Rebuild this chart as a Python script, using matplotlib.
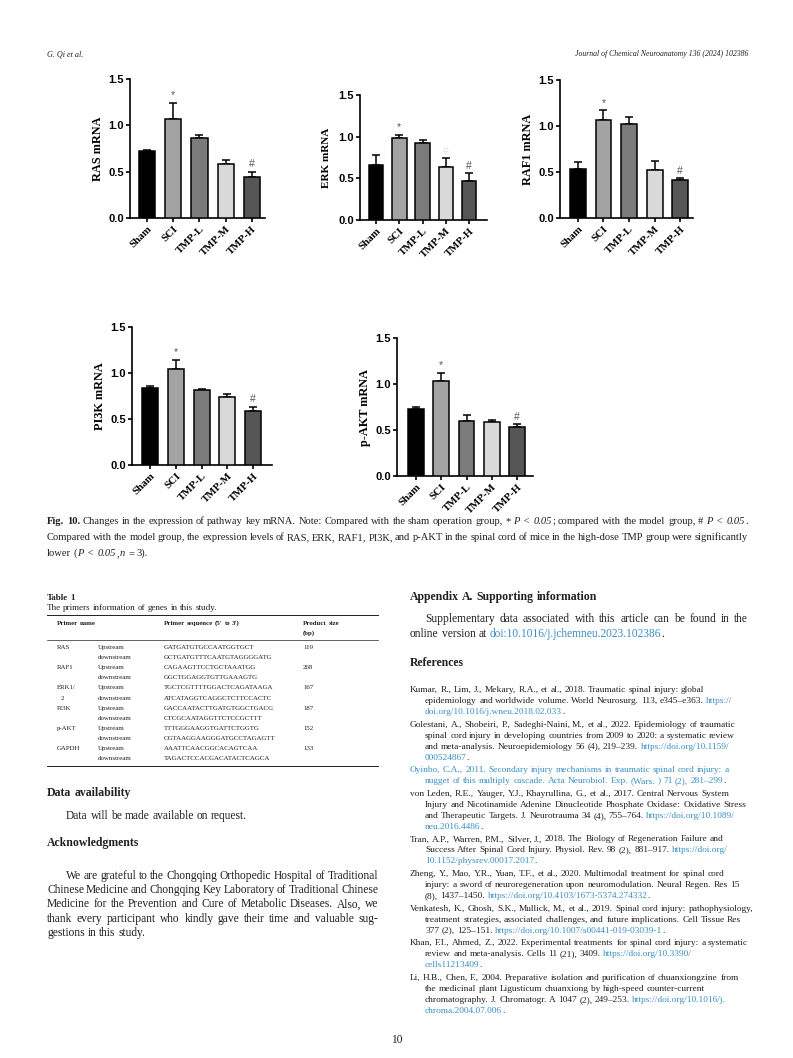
import re
import matplotlib
matplotlib.use('Agg')
import matplotlib.pyplot as plt
from matplotlib.lines import Line2D

W, H = 793, 1058

# --- chart data ---
groups = ['Sham', 'SCI', 'TMP-L', 'TMP-M', 'TMP-H']
bar_colors = ['#000000', '#a3a3a3', '#7b7b7b', '#d9d9d9', '#565656']

ras_mean = [0.72, 1.07, 0.86, 0.58, 0.44]
ras_err = [0.01, 0.17, 0.04, 0.045, 0.06]
erk_mean = [0.66, 0.98, 0.92, 0.635, 0.47]
erk_err = [0.12, 0.045, 0.04, 0.105, 0.09]
raf1_mean = [0.53, 1.07, 1.02, 0.52, 0.41]
raf1_err = [0.08, 0.10, 0.08, 0.095, 0.02]
pi3k_mean = [0.835, 1.04, 0.815, 0.735, 0.59]
pi3k_err = [0.022, 0.105, 0.012, 0.035, 0.04]
pakt_mean = [0.73, 1.03, 0.60, 0.585, 0.53]
pakt_err = [0.02, 0.095, 0.065, 0.02, 0.03]

# --- table data ---
genes = ['RAS', 'RAF1', 'ERK1/', 'PI3K', 'p-AKT', 'GAPDH']
up_seq = ['GATGATGTGCCAATGGTGCT', 'CAGAAGTTCCTGCTAAATGG', 'TGCTCGTTTTGGACTCAGATAAGA',
          'GACCAATACTTGATGTGGCTGACG', 'TTTGGGAAGGTGATTCTGGTG', 'AAATTCAACGGCACAGTCAA']
down_seq = ['GCTGATGTTTCAATGTAGGGGATG', 'GGCTGGAGGTGTTGAAAGTG', 'ATCATAGGTCAGGCTCTTCCACTC',
            'CTCGCAATAGGTTCTCCGCTTT', 'CGTAAGGAAGGGATGCCTAGAGTT', 'TAGACTCCACGACATACTCAGCA']
sizes = ['119', '268', '167', '187', '152', '133']

TEXT = '#231f20'
LINK = '#3a8fc4'
BODY = 'Liberation Serif'
CAP = 'Liberation Serif'

fig = plt.figure(figsize=(W / 100, H / 100), dpi=100)
fig.patch.set_facecolor('white')
renderer = fig.canvas.get_renderer()


def fx(x):
    return x / W


def fy(y):
    return 1 - y / H


# === bar charts ===
def add_chart(box, xlim, ylabel, means, errs, marks, lsize=8.8, label_x=None):
    x0, x1, ytop, ybot = box
    ax = fig.add_axes([fx(x0), fy(ybot), (x1 - x0) / W, (ybot - ytop) / H])
    xs = list(range(len(groups)))
    ax.bar(xs, means, width=0.62, color=bar_colors, edgecolor='black', linewidth=1.1, zorder=3)
    ax.errorbar(xs, means, yerr=[[0] * len(errs), errs], fmt='none', ecolor='black',
                elinewidth=1.1, capsize=2.8, capthick=1.1, zorder=2)
    ax.set_ylim(0, 1.5)
    ax.set_xlim(*xlim)
    ax.set_yticks([0, 0.5, 1.0, 1.5])
    ax.set_yticklabels(['0.0', '0.5', '1.0', '1.5'], fontfamily='Liberation Sans',
                       fontweight='bold', fontsize=8)
    ax.set_xticks(xs)
    ax.set_xticklabels(groups, rotation=45, ha='right', rotation_mode='anchor',
                       fontfamily='Liberation Serif', fontweight='bold', fontsize=7.8)
    for s in ['top', 'right']:
        ax.spines[s].set_visible(False)
    for s in ['left', 'bottom']:
        ax.spines[s].set_linewidth(1.2)
    ax.tick_params(direction='out', length=3, width=1.2, pad=1.5)
    ax.set_ylabel(ylabel, fontfamily='Liberation Serif', fontweight='bold', fontsize=lsize, labelpad=3)
    if label_x is not None:
        ax.yaxis.set_label_coords((label_x - x0) / (x1 - x0), 0.5)
    for i, sym, col in marks:
        ax.text(i, means[i] + errs[i] + 0.03, sym, ha='center', va='bottom',
                fontsize=7.5, color=col, fontfamily='Liberation Sans')
    ax.patch.set_alpha(0)
    return ax


std_marks = [(1, '*', '#555555'), (4, '#', '#555555')]
add_chart((130, 265, 79, 218), (-0.65, 4.5), 'RAS mRNA', ras_mean, ras_err, std_marks)
add_chart((360, 487, 95, 220), (-0.69, 4.77), 'ERK mRNA', erk_mean, erk_err,
          std_marks + [(3, '#', '#e2e2e2')], lsize=8.0, label_x=331)
add_chart((560, 693, 80, 218), (-0.7, 4.5), 'RAF1 mRNA', raf1_mean, raf1_err, std_marks)
add_chart((132, 272, 327, 465), (-0.7, 4.73), 'PI3K mRNA', pi3k_mean, pi3k_err, std_marks)
add_chart((397, 533, 338, 476), (-0.75, 4.63), 'p-AKT mRNA', pakt_mean, pakt_err, std_marks)


# === text helpers ===
KIND = {'n': {}, 'b': {'fontweight': 'bold'}, 'i': {'fontstyle': 'italic'},
        'l': {'color': LINK}}


def KIND_W(kind):
    return {k: v for k, v in KIND[kind].items() if k != 'color'}


def width_of(s, size, family, **kw):
    t = fig.text(0, 0, s, fontsize=size, fontfamily=family, **kw)
    w = t.get_window_extent(renderer).width
    t.remove()
    return w


def fit(s, target, family=BODY, **kw):
    return 10 * target / width_of(s, 10, family, **kw)


def draw_line(segs, x0, y, size, family=BODY, x1=None):
    if isinstance(segs, str):
        segs = [(segs, 'n')]
    toks = []
    pending = False
    for text, kind in segs:
        for m in re.finditer(r'\S+| +', text):
            t = m.group()
            if t.strip() == '':
                pending = True
                continue
            toks.append((t, kind, pending and len(toks) > 0))
            pending = False
    # word advance = width(word + '|') - width('|'), keeps side bearings
    bar_w = width_of('|', size, family)
    objs, widths = [], []
    for t, kind, sp in toks:
        p = dict(color=TEXT)
        p.update(KIND[kind])
        o = fig.text(0, fy(y), t, fontsize=size, fontfamily=family, va='baseline', **p)
        objs.append(o)
        widths.append(width_of(t + '|', size, family, **KIND_W(kind)) - bar_w)
    space = width_of('| |', size, family) - width_of('||', size, family)
    nsp = sum(1 for t in toks if t[2])
    natural = sum(widths) + nsp * space
    gap = space
    if x1 is not None and nsp > 0:
        gap = space + (x1 - x0 - natural) / nsp
    x = x0
    for (t, kind, sp), o, w in zip(toks, objs, widths):
        if sp:
            x += gap
        o.set_x(fx(x))
        x += w


def hrule(x0, x1, y, lw=0.7):
    fig.add_artist(Line2D([fx(x0), fx(x1)], [fy(y), fy(y)], color=TEXT, lw=lw))


# text blocks
cap1 = [('Fig. 10.', 'b'), (' Changes in the expression of pathway key mRNA. Note: Compared with the sham '
        'operation group, * ', 'n'), ('P < 0.05', 'i'), ('; compared with the model group, # ', 'n'),
        ('P < 0.05', 'i'), ('.', 'n')]
cap2 = ('Compared with the model group, the expression levels of RAS, ERK, RAF1, PI3K, and p-AKT in '
        'the spinal cord of mice in the high-dose TMP group were significantly')
ack = ['We are grateful to the Chongqing Orthopedic Hospital of Traditional',
       'Chinese Medicine and Chongqing Key Laboratory of Traditional Chinese',
       'Medicine for the Prevention and Cure of Metabolic Diseases. Also, we',
       'thank every participant who kindly gave their time and valuable sug-',
       'gestions in this study.']
supp = 'Supplementary data associated with this article can be found in the'

# font sizes fitted to line widths measured on the page
cs = (fit(cap2, 698, CAP) + fit(''.join(t for t, k in cap1), 698, CAP)) / 2
bs = (fit(supp, 318) + fit(ack[0], 309) + fit(ack[1], 328) + fit(ack[2], 328) + fit(ack[3], 328)) / 5
hs = fit('Acknowledgments', 92, fontweight='bold')
ts = fit('GCTGATGTTTCAATGTAGGGGATG', 110)
tt = fit('The primers information of genes in this study.', 170)
rs = (fit('Kumar, R., Lim, J., Mekary, R.A., et al., 2018. Traumatic spinal injury: global', 293)
      + fit('Golestani, A., Shobeiri, P., Sadeghi-Naini, M., et al., 2022. Epidemiology of traumatic', 315)
      + fit('epidemiology and worldwide volume. World Neurosurg. 113, e345–e363. https://', 312)) / 3
js = fit('Journal of Chemical Neuroanatomy 136 (2024) 102386', 173, CAP, fontstyle='italic')

# header
fig.text(fx(47), fy(56), 'G. Qi et al.', fontsize=js * 1.05, fontfamily=CAP, fontstyle='italic',
         color=TEXT, va='baseline')
fig.text(fx(748), fy(56), 'Journal of Chemical Neuroanatomy 136 (2024) 102386', fontsize=js,
         fontfamily=CAP, fontstyle='italic', color=TEXT, va='baseline', ha='right')

# caption
draw_line(cap1, 47, 524, cs, CAP, 748)
draw_line(cap2, 47, 540, cs, CAP, 748)
draw_line([('lower (', 'n'), ('P < 0.05', 'i'), (',', 'n'), ('n', 'i'), (' = 3).', 'n')], 47, 556, cs, CAP)

# table
draw_line([('Table 1', 'b')], 47, 600, tt)
draw_line('The primers information of genes in this study.', 47, 610, tt)
hrule(47, 378, 615)
draw_line([('Primer name', 'b')], 57, 625, ts)
draw_line([('Primer sequence (5′ to 3′)', 'b')], 164, 625, ts)
draw_line([('Product size', 'b')], 303, 625, ts)
draw_line([('(bp)', 'b')], 303, 635, ts)
hrule(47, 378, 640, 0.5)
y = 649
for i in range(len(genes)):
    draw_line(genes[i], 57, y, ts)
    draw_line('Upstream', 98, y, ts)
    draw_line(up_seq[i], 164, y, ts)
    draw_line(sizes[i], 303, y, ts)
    y += 10.1
    if genes[i] == 'ERK1/':
        draw_line('2', 61, y, ts)
    draw_line('downstream', 98, y, ts)
    draw_line(down_seq[i], 164, y, ts)
    y += 10.1
hrule(47, 378, y - 4.5)

# left column body
draw_line([('Data availability', 'b')], 47, 796, hs)
draw_line('Data will be made available on request.', 66, 819, bs)
draw_line([('Acknowledgments', 'b')], 47, 846, hs)
for k, ln in enumerate(ack):
    draw_line(ln, 66 if k == 0 else 47, 879 + 14.2 * k, bs, x1=378 if k < len(ack) - 1 else None)

# right column
draw_line([('Appendix A.  Supporting information', 'b')], 410, 600, hs)
draw_line(supp, 425, 622, bs, x1=748)
draw_line([('online version at ', 'n'), ('doi:10.1016/j.jchemneu.2023.102386', 'l'), ('.', 'n')], 410, 637, bs)
draw_line([('References', 'b')], 410, 666, hs)

refs = [
    [[('Kumar, R., Lim, J., Mekary, R.A., et al., 2018. Traumatic spinal injury: global', 'n')],
     [('epidemiology and worldwide volume. World Neurosurg. 113, e345–e363. ', 'n'), ('https://', 'l')],
     [('doi.org/10.1016/j.wneu.2018.02.033', 'l'), ('.', 'n')]],
    [[('Golestani, A., Shobeiri, P., Sadeghi-Naini, M., et al., 2022. Epidemiology of traumatic', 'n')],
     [('spinal cord injury in developing countries from 2009 to 2020: a systematic review', 'n')],
     [('and meta-analysis. Neuroepidemiology 56 (4), 219–239. ', 'n'), ('https://doi.org/10.1159/', 'l')],
     [('000524867', 'l'), ('.', 'n')]],
    [[('Oyinbo, C.A., 2011. Secondary injury mechanisms in traumatic spinal cord injury: a', 'l')],
     [('nugget of this multiply cascade. Acta Neurobiol. Exp. (Wars. ) 71 (2), 281–299', 'l'), ('.', 'n')]],
    [[('von Leden, R.E., Yauger, Y.J., Khayrullina, G., et al., 2017. Central Nervous System', 'n')],
     [('Injury and Nicotinamide Adenine Dinucleotide Phosphate Oxidase: Oxidative Stress', 'n')],
     [('and Therapeutic Targets. J. Neurotrauma 34 (4), 755–764. ', 'n'), ('https://doi.org/10.1089/', 'l')],
     [('neu.2016.4486', 'l'), ('.', 'n')]],
    [[('Tran, A.P., Warren, P.M., Silver, J., 2018. The Biology of Regeneration Failure and', 'n')],
     [('Success After Spinal Cord Injury. Physiol. Rev. 98 (2), 881–917. ', 'n'), ('https://doi.org/', 'l')],
     [('10.1152/physrev.00017.2017', 'l'), ('.', 'n')]],
    [[('Zheng, Y., Mao, Y.R., Yuan, T.F., et al., 2020. Multimodal treatment for spinal cord', 'n')],
     [('injury: a sword of neuroregeneration upon neuromodulation. Neural Regen. Res 15', 'n')],
     [('(8), 1437–1450. ', 'n'), ('https://doi.org/10.4103/1673-5374.274332', 'l'), ('.', 'n')]],
    [[('Venkatesh, K., Ghosh, S.K., Mullick, M., et al., 2019. Spinal cord injury: pathophysiology,', 'n')],
     [('treatment strategies, associated challenges, and future implications. Cell Tissue Res', 'n')],
     [('377 (2), 125–151. ', 'n'), ('https://doi.org/10.1007/s00441-019-03039-1', 'l'), ('.', 'n')]],
    [[('Khan, F.I., Ahmed, Z., 2022. Experimental treatments for spinal cord injury: a systematic', 'n')],
     [('review and meta-analysis. Cells 11 (21), 3409. ', 'n'), ('https://doi.org/10.3390/', 'l')],
     [('cells11213409', 'l'), ('.', 'n')]],
    [[('Li, H.B., Chen, F., 2004. Preparative isolation and purification of chuanxiongzine from', 'n')],
     [('the medicinal plant Ligusticum chuanxiong by high-speed counter-current', 'n')],
     [('chromatography. J. Chromatogr. A 1047 (2), 249–253. ', 'n'), ('https://doi.org/10.1016/j.', 'l')],
     [('chroma.2004.07.006', 'l'), ('.', 'n')]],
]
y = 692
for ref in refs:
    for k, ln in enumerate(ref):
        draw_line(ln, 410 if k == 0 else 425, y, rs)
        y += 11.0
    y += 1.6

# page number
fig.text(0.5, fy(1043), '10', fontsize=bs, fontfamily=BODY, color=TEXT, ha='center', va='baseline')

fig.savefig('out.png', dpi=100, facecolor='white')
